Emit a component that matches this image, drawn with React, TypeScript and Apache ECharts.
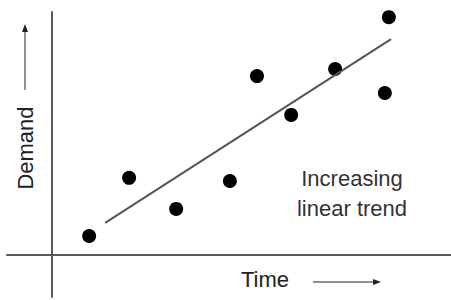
import React, { useEffect, useRef } from "react";
import * as echarts from "echarts";

const timeValues = [8.5, 17.5, 28.1, 40.2, 46.3, 54.0, 63.9, 75.1, 76.0];
const demandValues = [6.4, 26.8, 15.9, 25.7, 62.5, 48.9, 65.0, 56.6, 83.2];
const trendTime = [12.1, 76.5];
const trendDemand = [11.0, 75.5];
const xLabel = "Time";
const yLabel = "Demand";
const noteText = "Increasing\nlinear trend";

export default function App() {
  const ref = useRef<HTMLDivElement>(null);
  useEffect(() => {
    if (!ref.current) return;
    const chart = echarts.init(ref.current, null, { renderer: "svg" });
    const font = "'Liberation Sans', Arial, sans-serif";
    const points = timeValues.map((t, i) => [t, demandValues[i]]);
    const trend = trendTime.map((t, i) => [t, trendDemand[i]]);
    chart.setOption({
      animation: false,
      backgroundColor: "#ffffff",
      grid: { left: 7, right: 0, top: 12, bottom: 3 },
      xAxis: {
        type: "value",
        min: -10,
        max: 90,
        axisLine: { show: true, onZero: true, lineStyle: { color: "#5a5a5a", width: 2 } },
        axisTick: { show: false },
        axisLabel: { show: false },
        splitLine: { show: false },
      },
      yAxis: {
        type: "value",
        min: -15,
        max: 85,
        axisLine: { show: true, onZero: true, lineStyle: { color: "#5a5a5a", width: 2 } },
        axisTick: { show: false },
        axisLabel: { show: false },
        splitLine: { show: false },
      },
      series: [
        {
          type: "line",
          data: trend,
          symbol: "none",
          lineStyle: { color: "#555555", width: 2 },
          silent: true,
        },
        {
          type: "scatter",
          data: points,
          symbolSize: 14,
          itemStyle: { color: "#000000", opacity: 1 },
        },
      ],
      graphic: [
        {
          type: "text",
          x: 25,
          y: 148,
          rotation: Math.PI / 2,
          style: {
            text: yLabel,
            font: `22px ${font}`,
            fill: "#222222",
            textAlign: "center",
            textVerticalAlign: "middle",
          },
        },
        {
          type: "line",
          shape: { x1: 25, y1: 90, x2: 25, y2: 30 },
          style: { stroke: "#222222", lineWidth: 1 },
        },
        {
          type: "polygon",
          shape: { points: [[25, 24], [22, 32], [28, 32]] },
          style: { fill: "#222222" },
        },
        {
          type: "text",
          x: 241,
          y: 279,
          style: {
            text: xLabel,
            font: `22px ${font}`,
            fill: "#222222",
            textAlign: "left",
            textVerticalAlign: "middle",
          },
        },
        {
          type: "line",
          shape: { x1: 313, y1: 282, x2: 374, y2: 282 },
          style: { stroke: "#222222", lineWidth: 1 },
        },
        {
          type: "polygon",
          shape: { points: [[381, 282], [373, 279], [373, 285]] },
          style: { fill: "#222222" },
        },
        {
          type: "text",
          x: 352,
          y: 193,
          style: {
            text: noteText,
            font: `22px ${font}`,
            lineHeight: 30,
            fill: "#333333",
            textAlign: "center",
            textVerticalAlign: "middle",
          },
        },
      ],
    });
    return () => chart.dispose();
  }, []);
  return <div ref={ref} style={{ width: 451, height: 300, position: "absolute", left: 0, top: 0 }} />;
}
